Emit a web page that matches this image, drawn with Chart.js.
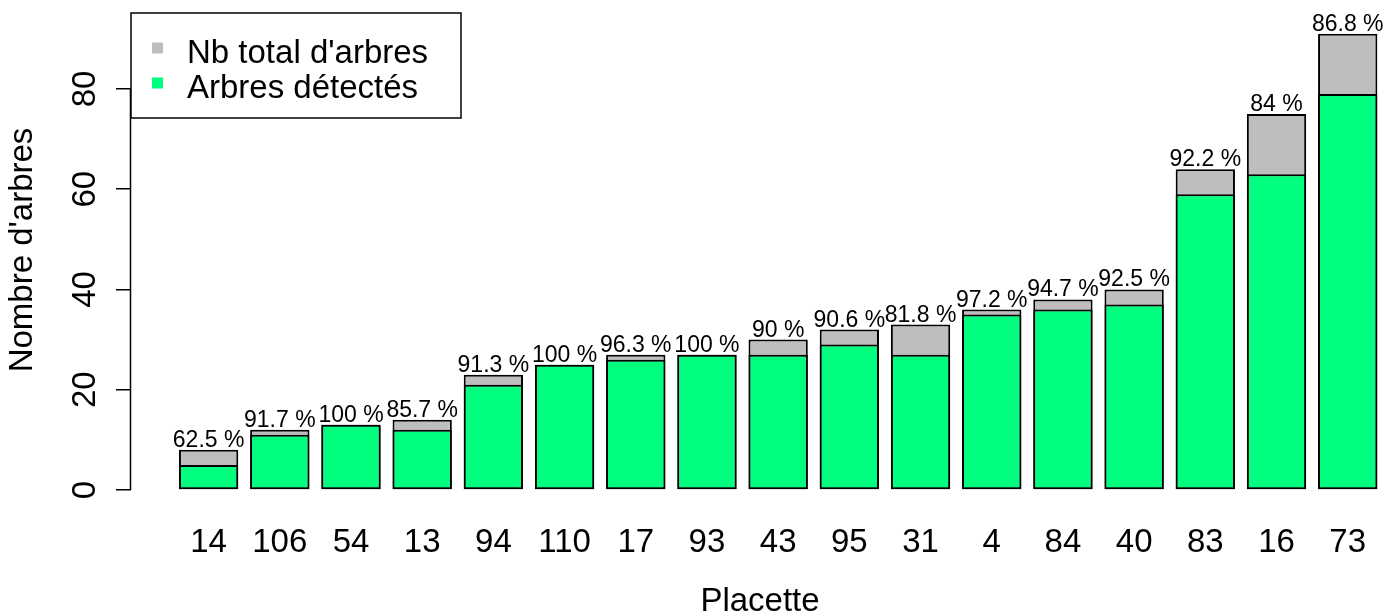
<!DOCTYPE html>
<html lang="fr">
<head>
<meta charset="utf-8">
<title>Arbres détectés par placette</title>
<script src="https://cdn.jsdelivr.net/npm/chart.js@4.4.1/dist/chart.umd.min.js"></script>
<style>
    html, body { margin: 0; padding: 0; background: #fff; }
    canvas { display: block; }
</style>
</head>
<body>
<canvas id="chart-placettes" width="1389" height="614"></canvas>
<script>
// Données par placette (dans l'ordre d'affichage)
const placettes = ['14', '106', '54', '13', '94', '110', '17', '93', '43', '95', '31', '4', '84', '40', '83', '16', '73'];
const nbTotal = [8, 12, 13, 14, 23, 25, 27, 27, 30, 32, 33, 36, 38, 40, 64, 75, 91];
const nbDetectes = [5, 11, 13, 12, 21, 25, 26, 27, 27, 29, 27, 35, 36, 37, 59, 63, 79];
const graduationsY = [0, 20, 40, 60, 80];

const COULEUR_TOTAL = '#bebebe';
const COULEUR_DETECTES = '#00ff7f';
const POLICE = '"Liberation Sans", Arial, Helvetica, sans-serif';

Chart.defaults.font.family = POLICE;
Chart.defaults.color = '#000';

/**
 * Pourcentage détecté, arrondi à 0.1 (sans zéro inutile)
 */
function pourcentage(i) {
    return Math.round(nbDetectes[i] / nbTotal[i] * 1000) / 10;
}

/**
 * Taille fixe d'un axe, sans marge ajoutée pour les étiquettes
 */
function tailleFixe(prop, valeur) {
    return (scale) => {
        scale[prop] = valeur;
        scale.paddingTop = 0;
        scale.paddingBottom = 0;
        scale.paddingLeft = 0;
        scale.paddingRight = 0;
    };
}

/**
 * Axe Y, pourcentages au-dessus des barres, titre Y et légende
 */
const pluginAnnotations = {
    id: 'annotationsPlacettes',
    afterDatasetsDraw(chart) {
        const ctx = chart.ctx;
        const area = chart.chartArea;
        const y = chart.scales.y;

        ctx.save();

        // Ligne de l'axe Y, seulement entre la première et la dernière graduation
        ctx.strokeStyle = '#000';
        ctx.lineWidth = 1.5;
        ctx.beginPath();
        ctx.moveTo(area.left - 0.5, y.getPixelForValue(graduationsY[0]));
        ctx.lineTo(area.left - 0.5, y.getPixelForValue(graduationsY[graduationsY.length - 1]));
        ctx.stroke();

        // Pourcentages au-dessus des barres du total
        ctx.fillStyle = '#000';
        ctx.font = '23px ' + POLICE;
        ctx.textAlign = 'center';
        ctx.textBaseline = 'alphabetic';
        chart.getDatasetMeta(0).data.forEach((barre, i) => {
            ctx.fillText(pourcentage(i) + ' %', barre.x, barre.y - 3);
        });

        // Titre de l'axe Y
        ctx.font = '33px ' + POLICE;
        ctx.textBaseline = 'middle';
        ctx.save();
        ctx.translate(23, 250);
        ctx.rotate(-Math.PI / 2);
        ctx.fillText("Nombre d'arbres", 0, 0);
        ctx.restore();

        // Légende encadrée en haut à gauche
        const boite = { x: area.left, y: 13, w: 330, h: 105 };
        ctx.fillStyle = '#fff';
        ctx.fillRect(boite.x, boite.y, boite.w, boite.h);
        ctx.strokeStyle = '#000';
        ctx.lineWidth = 1.5;
        ctx.strokeRect(boite.x, boite.y, boite.w, boite.h);

        ctx.textAlign = 'left';
        ctx.textBaseline = 'alphabetic';
        chart.data.datasets.forEach((ds, i) => {
            const base = boite.y + 50 + i * 35;
            ctx.fillStyle = ds.backgroundColor;
            ctx.fillRect(boite.x + 21, base - 20.5, 11, 11);
            ctx.fillStyle = '#000';
            ctx.fillText(ds.label, boite.x + 56, base);
        });

        ctx.restore();
    }
};

const ctx = document.getElementById('chart-placettes').getContext('2d');

new Chart(ctx, {
    type: 'bar',
    data: {
        datasets: [{
            label: "Nb total d'arbres",
            data: nbTotal.map((v, i) => ({ x: i, y: v })),
            backgroundColor: COULEUR_TOTAL,
            borderColor: '#000',
            borderWidth: 2,
            borderSkipped: false,
            order: 2
        }, {
            label: 'Arbres détectés',
            data: nbDetectes.map((v, i) => ({ x: i, y: v })),
            backgroundColor: COULEUR_DETECTES,
            borderColor: '#000',
            borderWidth: 2,
            borderSkipped: false,
            order: 1
        }]
    },
    options: {
        responsive: false,
        animation: false,
        barPercentage: 0.833,
        categoryPercentage: 1,
        layout: {
            padding: { top: 15.6, right: 0, bottom: 0, left: 0 }
        },
        plugins: {
            legend: { display: false },
            tooltip: { enabled: false }
        },
        scales: {
            x: {
                type: 'linear',
                stacked: true,
                offset: false,
                min: -1.09,
                max: 16.58,
                afterFit: tailleFixe('height', 105.8),
                afterBuildTicks: (scale) => {
                    scale.ticks = placettes.map((_, i) => ({ value: i }));
                },
                grid: { display: false },
                border: { display: false },
                ticks: {
                    autoSkip: false,
                    maxRotation: 0,
                    padding: 7,
                    font: { size: 33 },
                    callback: (v) => placettes[v]
                },
                title: {
                    display: true,
                    text: 'Placette',
                    font: { size: 33, lineHeight: 1.2 },
                    padding: { top: 0, bottom: -8 }
                }
            },
            y: {
                stacked: false,
                min: -3.64,
                max: 94.64,
                afterFit: tailleFixe('width', 131),
                afterBuildTicks: (scale) => {
                    scale.ticks = graduationsY.map(v => ({ value: v }));
                },
                grid: {
                    drawOnChartArea: false,
                    drawTicks: true,
                    tickLength: 15,
                    color: '#000',
                    lineWidth: 1.5
                },
                border: { display: false },
                ticks: {
                    minRotation: 90,
                    maxRotation: 90,
                    crossAlign: 'center',
                    padding: 11.5,
                    font: { size: 33 }
                }
            }
        }
    },
    plugins: [pluginAnnotations]
});
</script>
</body>
</html>
